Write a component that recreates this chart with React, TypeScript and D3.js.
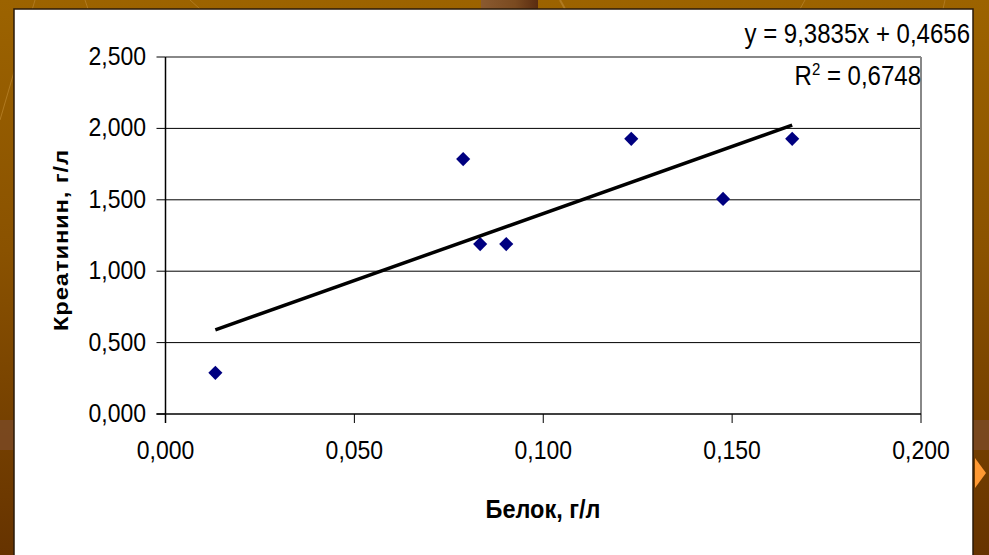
import React from "react";
import * as d3 from "d3";

const proteinX: number[] = [0.0132, 0.0788, 0.0833, 0.0902, 0.1233, 0.1476, 0.1659];
const creatinineY: number[] = [0.288, 1.785, 1.19, 1.19, 1.927, 1.506, 1.927];
const xTicks: number[] = [0, 0.05, 0.1, 0.15, 0.2];
const yTicks: number[] = [0, 0.5, 1.0, 1.5, 2.0, 2.5];
const trendSlope = 9.3835;
const trendIntercept = 0.4656;
const equationText = "y = 9,3835x + 0,4656";
const r2Value = "0,6748";
const xTitle = "Белок, г/л";
const yTitle = "Креатинин, г/л";

const W = 989;
const H = 555;

const locale = d3.formatLocale({ decimal: ",", thousands: " ", grouping: [3], currency: ["", ""] });
const fmt = locale.format(".3f");

export default function App() {
  const x = d3.scaleLinear().domain([0, 0.2]).range([165.5, 921]);
  const y = d3.scaleLinear().domain([0, 2.5]).range([414, 57]);
  const font = "'Liberation Sans', Arial, sans-serif";
  const diamond = d3.symbol().type(d3.symbolSquare).size(100)() as string;
  const xMin = d3.min(proteinX) as number;
  const xMax = d3.max(proteinX) as number;
  const trendPts: [number, number][] = [xMin, xMax].map((v) => [x(v), y(trendSlope * v + trendIntercept)]);
  const line = d3.line();

  return (
    <svg width={W} height={H} style={{ position: "fixed", left: 0, top: 0, display: "block" }} fontFamily={font}>
      <defs>
        <linearGradient id="bg" x1="0" y1="0" x2="0" y2="1">
          <stop offset="0" stopColor="#9c6300" />
          <stop offset="0.45" stopColor="#8a5200" />
          <stop offset="1" stopColor="#663300" />
        </linearGradient>
        <linearGradient id="blk" x1="0" y1="0" x2="1" y2="0">
          <stop offset="0" stopColor="#8a5a30" />
          <stop offset="0.6" stopColor="#7a4a20" />
          <stop offset="1" stopColor="#5a2c10" />
        </linearGradient>
      </defs>
      <rect x={0} y={0} width={W} height={H} fill="url(#bg)" />
      <rect x={0} y={420} width={W} height={30} fill="#7b4a26" opacity={0.8} />
      <rect x={481} y={0} width={57} height={10} fill="url(#blk)" />
      <line x1={0} y1={120} x2={35} y2={0} stroke="#b07a20" strokeWidth={1} />
      <line x1={85} y1={0} x2={88} y2={9} stroke="#b07a20" strokeWidth={1} />
      <line x1={190} y1={0} x2={200} y2={9} stroke="#b07a20" strokeWidth={1} />
      <line x1={560} y1={0} x2={565} y2={9} stroke="#b07a20" strokeWidth={2} />
      <line x1={800} y1={9} x2={805} y2={0} stroke="#b07a20" strokeWidth={1} />
      <line x1={945} y1={0} x2={943} y2={9} stroke="#b07a20" strokeWidth={1} />
      <path d="M975,458 L986,473 L975,488 Z" fill="#ff9933" />
      <rect x={14} y={9} width={959} height={560} fill="#ffffff" stroke="#2a1a0a" strokeWidth={1.5} />

      {/* gridlines */}
      {yTicks.filter((t) => t > 0 && t < 2.5).map((t) => (
        <line key={"g" + t} x1={x(0)} x2={x(0.2)} y1={y(t)} y2={y(t)} stroke="#000" strokeWidth={1} />
      ))}
      {/* plot frame top & right */}
      <line x1={x(0)} x2={x(0.2)} y1={y(2.5)} y2={y(2.5)} stroke="#888" strokeWidth={2} />
      <line x1={x(0.2)} x2={x(0.2)} y1={y(2.5)} y2={y(0)} stroke="#888" strokeWidth={2} />
      {/* axes */}
      <line x1={x(0)} x2={x(0)} y1={y(2.5)} y2={y(0) + 9} stroke="#000" strokeWidth={1.5} />
      <line x1={x(0) - 9} x2={x(0.2)} y1={y(0)} y2={y(0)} stroke="#000" strokeWidth={1.5} />
      {yTicks.map((t) => (
        <g key={"yt" + t}>
          <line x1={x(0) - 9} x2={x(0)} y1={y(t)} y2={y(t)} stroke="#000" strokeWidth={1} />
          <text transform={`translate(146,${y(t) + 8}) scale(1,1.13)`} textAnchor="end" fontSize={23} fill="#000">
            {fmt(t)}
          </text>
        </g>
      ))}
      {xTicks.map((t) => (
        <g key={"xt" + t}>
          <line x1={x(t)} x2={x(t)} y1={y(0)} y2={y(0) + 9} stroke="#000" strokeWidth={1} />
          <text transform={`translate(${x(t)},${y(0) + 45}) scale(1,1.13)`} textAnchor="middle" fontSize={23} fill="#000">
            {fmt(t)}
          </text>
        </g>
      ))}

      {/* points */}
      {proteinX.map((v, i) => (
        <path key={"p" + i} d={diamond} transform={`translate(${x(v)},${y(creatinineY[i])}) rotate(45)`} fill="#000080" />
      ))}

      {/* trendline */}
      <path d={line(trendPts) as string} stroke="#000" strokeWidth={3.5} fill="none" />

      {/* equation */}
      <text transform="translate(970,43) scale(1,1.15)" textAnchor="end" fontSize={24} fill="#000">
        {equationText}
      </text>
      <text transform="translate(921,85) scale(1,1.15)" textAnchor="end" fontSize={24} fill="#000">
        <tspan>R</tspan>
        <tspan dy={-9} fontSize={15}>2</tspan>
        <tspan dy={9}>{" = " + r2Value}</tspan>
      </text>

      {/* axis titles */}
      <text transform="translate(543,518) scale(1,1.1)" textAnchor="middle" fontSize={23.5} fontWeight="bold" fill="#000">
        {xTitle}
      </text>
      <text transform="translate(68,240) rotate(-90) scale(1.13,1)" textAnchor="middle" fontSize={21} fontWeight="bold" letterSpacing={0.8} fill="#000">
        {yTitle}
      </text>
    </svg>
  );
}
